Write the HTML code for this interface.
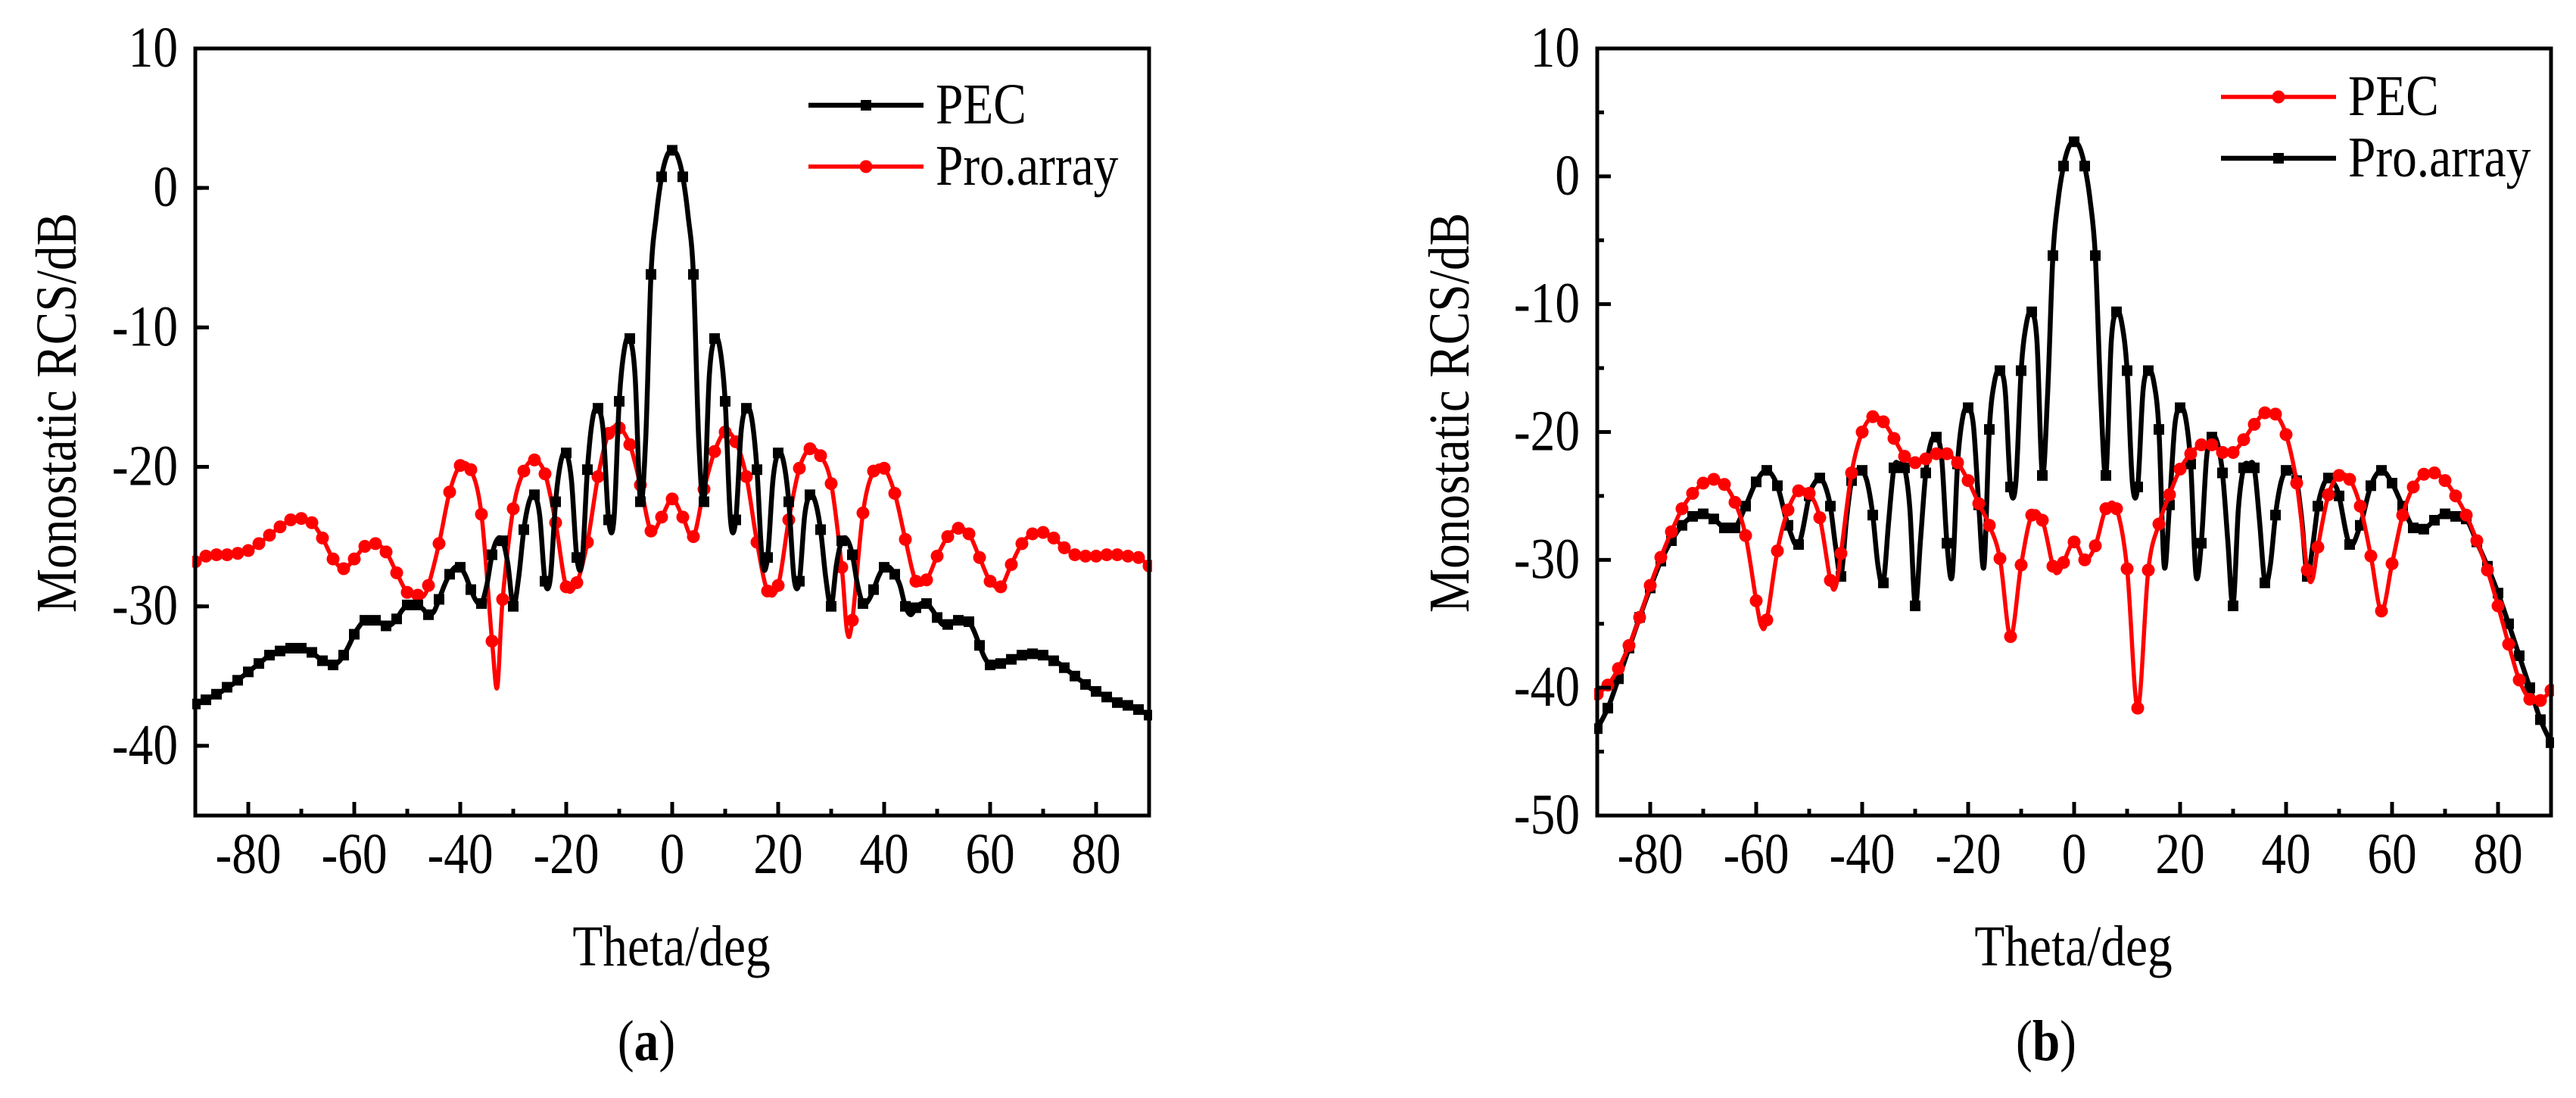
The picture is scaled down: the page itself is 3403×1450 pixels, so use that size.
<!DOCTYPE html>
<html><head><meta charset="utf-8"><style>
body{margin:0;background:#fff}
svg{display:block}
text{font-family:"Liberation Serif","DejaVu Serif","Times New Roman",Times,serif;fill:#000}
</style></head><body>
<svg id="fig" width="3403" height="1450" viewBox="0 0 3403 1450" xmlns="http://www.w3.org/2000/svg"></svg>
<script>
// ---- chart (a) data ----
const aPecTheta=[-90,-89,-88,-87,-86,-85,-84,-83,-82,-81,-80,-79,-78,-77,-76,-75,-74,-73,-72,-71,-70,-69,-68,-67,-66,-65,-64,-63,-62,-61,-60,-59,-58,-57,-56,-55,-54,-53,-52,-51,-50,-49,-48,-47,-46,-45,-44,-43,-42,-41,-40,-39,-38,-37,-36,-35,-34,-33,-32,-31,-30,-29,-28,-27,-26,-25,-24,-23,-22,-21,-20,-19,-18,-17,-16,-15,-14,-13,-12,-11,-10,-9,-8,-7,-6,-5,-4,-3,-2,-1,0,1,2,3,4,5,6,7,8,9,10,11,12,13,14,15,16,17,18,19,20,21,22,23,24,25,26,27,28,29,30,31,32,33,34,35,36,37,38,39,40,41,42,43,44,45,46,47,48,49,50,51,52,53,54,55,56,57,58,59,60,61,62,63,64,65,66,67,68,69,70,71,72,73,74,75,76,77,78,79,80,81,82,83,84,85,86,87,88,89,90];
const aPecValues=[-37,-36.9,-36.7,-36.5,-36.3,-36.1,-35.8,-35.6,-35.3,-35.0,-34.7,-34.4,-34.1,-33.8,-33.5,-33.3,-33.2,-33.1,-33.0,-33.0,-33.0,-33.1,-33.3,-33.6,-33.9,-34.1,-34.2,-34.0,-33.5,-32.8,-32.0,-31.4,-31.0,-30.9,-31.0,-31.2,-31.4,-31.3,-30.9,-30.3,-29.9,-29.8,-29.9,-30.2,-30.6,-30.4,-29.5,-28.5,-27.7,-27.2,-27.2,-27.8,-28.8,-29.6,-29.8,-28.5,-26.3,-25.2,-25.3,-27.0,-30.0,-28.0,-24.5,-22.5,-22.0,-23.5,-28.2,-28.0,-22.5,-19.6,-19.0,-21.0,-26.5,-26.8,-20.2,-16.5,-15.8,-17.5,-23.8,-23.8,-15.3,-11.5,-10.8,-13.5,-22.5,-18,-6.2,-2.0,0.8,2.3,2.7,2.3,0.8,-2.0,-6.2,-18,-22.5,-13.5,-10.8,-11.5,-15.3,-23.8,-23.8,-17.5,-15.8,-16.5,-20.2,-26.8,-26.5,-21,-19,-19.6,-22.5,-28,-28.2,-23.5,-22,-22.5,-24.5,-28,-30,-27,-25.3,-25.2,-26.3,-28.5,-29.8,-29.6,-28.8,-27.8,-27.2,-27.2,-27.7,-28.5,-30.0,-30.6,-30.1,-29.8,-29.8,-30.2,-30.8,-31.3,-31.3,-31.1,-31.0,-31.0,-31.1,-31.8,-32.8,-33.7,-34.2,-34.2,-34.1,-34.0,-33.8,-33.6,-33.5,-33.4,-33.4,-33.4,-33.5,-33.7,-33.9,-34.1,-34.4,-34.7,-35.0,-35.3,-35.6,-35.9,-36.1,-36.3,-36.5,-36.7,-36.9,-37.0,-37.1,-37.2,-37.4,-37.6,-37.8];
const aProTheta=[-90,-88,-86,-84,-82,-80,-78,-76,-74,-72,-70,-68,-66,-64,-62,-60,-58,-56,-54,-52,-50,-48,-47,-46,-44,-42,-40,-38,-36,-34,-33,-32,-30,-28,-26,-24,-22,-20,-18,-16,-14,-12,-10,-8,-6,-4,-2,0,2,4,6,8,10,12,14,16,18,20,22,24,26,28,30,32,33,34,36,38,40,42,44,46,48,50,52,54,56,58,60,62,64,66,68,70,72,74,76,78,80,82,84,86,88,90];
const aProValues=[-26.8,-26.4,-26.3,-26.3,-26.2,-26.0,-25.5,-24.9,-24.3,-23.8,-23.7,-24.0,-25.1,-26.6,-27.3,-26.6,-25.7,-25.5,-26.1,-27.6,-29.0,-29.2,-29.3,-28.5,-25.5,-21.8,-19.9,-20.2,-23.4,-32.5,-35.8,-29.5,-23,-20.3,-19.5,-20.5,-24,-28.6,-28.3,-25.4,-20.7,-17.6,-17.2,-18.4,-21.3,-24.6,-23.6,-22.3,-23.6,-25.0,-21.6,-18.9,-17.5,-18.2,-20.7,-25.4,-28.9,-28.5,-23.8,-20.1,-18.7,-19.2,-21.2,-27.2,-31.8,-31,-23.3,-20.3,-20.1,-21.9,-25.2,-28.2,-28.1,-26.4,-25,-24.4,-24.8,-26.5,-28.2,-28.6,-27,-25.5,-24.8,-24.7,-25.1,-25.8,-26.3,-26.4,-26.4,-26.3,-26.3,-26.4,-26.5,-27.1];
const aXTicks=[-80,-60,-40,-20,0,20,40,60,80];
const aYTicks=[-40,-30,-20,-10,0,10];
// ---- chart (b) data ----
const bProTheta=[-90,-88,-86,-84,-82,-80,-78,-76,-74,-72,-70,-68,-66,-64,-62,-60,-58,-56,-54,-52,-50,-49,-48,-47,-46,-45,-44,-43,-42,-41,-40,-39,-38,-37,-36,-35,-34,-33,-32,-31,-30,-29,-28,-27,-26,-25,-24,-23,-22,-21,-20,-19,-18,-17,-16,-15,-14,-13,-12,-11,-10,-9,-8,-7,-6,-5,-4,-3,-2,-1,0,1,2,3,4,5,6,7,8,9,10,11,12,13,14,15,16,17,18,19,20,21,22,23,24,25,26,27,28,29,30,31,32,33,34,35,36,37,38,39,40,41,42,43,44,45,46,47,48,49,50,52,54,56,58,60,62,64,66,68,70,72,74,76,78,80,82,84,86,88,90];
const bProValues=[-43.2,-41.6,-39.3,-36.9,-34.5,-32.2,-30.1,-28.5,-27.3,-26.6,-26.4,-26.8,-27.5,-27.5,-25.8,-23.9,-23.0,-24.2,-27.3,-28.8,-25.0,-24.0,-23.6,-24.2,-25.8,-29.0,-31.3,-27.0,-23.8,-23.0,-23.0,-24.0,-26.5,-30.5,-31.8,-27.0,-22.8,-22.5,-22.8,-26.0,-33.6,-28.5,-23.2,-20.8,-20.4,-22.0,-28.7,-31.2,-22.5,-18.8,-18.1,-19.5,-25.7,-30.5,-19.8,-16.0,-15.2,-16.8,-24.3,-24.0,-15.2,-11.5,-10.6,-13.0,-23.4,-17.0,-6.2,-1.8,0.8,2.3,2.7,2.3,0.8,-1.8,-6.2,-17,-23.4,-13,-10.6,-11.5,-15.2,-24.0,-24.3,-16.8,-15.2,-16.0,-19.8,-30.5,-25.7,-19.5,-18.1,-18.8,-22.5,-31.2,-28.7,-22,-20.4,-20.8,-23.2,-28.5,-33.6,-26,-22.8,-22.5,-22.8,-27,-31.8,-30.5,-26.5,-24,-23,-23,-23.8,-27,-31.3,-29,-25.8,-24.2,-23.6,-24,-25,-28.8,-27.3,-24.2,-23,-24,-25.8,-27.5,-27.6,-26.9,-26.4,-26.6,-26.8,-28.6,-30.5,-32.6,-35,-37.5,-40,-42.5,-44.3];
const bPecTheta=[-90,-88,-86,-84,-82,-80,-78,-76,-74,-72,-70,-68,-66,-64,-62,-60,-59,-58,-56,-54,-52,-50,-48,-46,-45,-44,-42,-40,-38,-36,-34,-32,-30,-28,-26,-24,-22,-20,-18,-16,-14,-12,-10,-8,-6,-4,-3,-2,0,2,4,6,8,10,12,14,16,18,20,22,24,26,28,30,32,34,36,38,40,42,44,45,46,48,50,52,54,56,58,60,62,64,66,68,70,72,74,76,78,80,82,84,86,88,90];
const bPecValues=[-40.5,-39.8,-38.5,-36.7,-34.5,-32,-29.8,-27.8,-26,-24.8,-24,-23.7,-24.1,-25.5,-28.1,-33.2,-35.2,-34.7,-29.3,-26.1,-24.6,-24.8,-26.7,-31.6,-32.1,-29.5,-23.2,-20.0,-18.8,-19.2,-20.5,-21.9,-22.4,-22.1,-21.7,-21.7,-22.4,-23.8,-25.6,-27.3,-29.9,-36.0,-30.4,-26.5,-26.9,-30.5,-31,-30.2,-28.6,-30.0,-28.9,-26.0,-26.0,-30.7,-41.6,-30.8,-27.2,-24.9,-22.9,-21.7,-21.0,-21.0,-21.6,-21.6,-20.6,-19.4,-18.5,-18.6,-20.2,-24,-30.8,-31.5,-29,-24.9,-23.4,-23.7,-25.8,-29.7,-34,-30.3,-26.5,-24.3,-23.3,-23.2,-23.8,-25.0,-26.5,-28.5,-30.8,-33.6,-36.6,-39.4,-40.9,-41.0,-40.2];
const bXTicks=[-80,-60,-40,-20,0,20,40,60,80];
const bYTicks=[-50,-40,-30,-20,-10,0,10];

const NS='http://www.w3.org/2000/svg';
const svg=document.getElementById('fig');
const SX=0.86, FS=76;
function mk(tag,attrs,parent){const e=document.createElementNS(NS,tag);for(const k in attrs)e.setAttribute(k,attrs[k]);(parent||svg).appendChild(e);return e;}
function txt(parent,x,y,str,anchor,rot){
 const t=mk('text',{x:0,y:0,'font-size':FS,'text-anchor':anchor||'start',
  transform:'translate('+x+','+y+')'+(rot?' rotate(-90)':'')+' scale('+SX+',1)'},parent);
 t.textContent=str;return t;}
function smoothPath(pts){let d='M'+pts[0][0].toFixed(1)+','+pts[0][1].toFixed(1);
 for(let i=0;i<pts.length-1;i++){const p0=pts[i-1]||pts[i],p1=pts[i],p2=pts[i+1],p3=pts[i+2]||p2;
  const c1x=p1[0]+(p2[0]-p0[0])/6,c1y=p1[1]+(p2[1]-p0[1])/6,c2x=p2[0]-(p3[0]-p1[0])/6,c2y=p2[1]-(p3[1]-p1[1])/6;
  d+=' C'+c1x.toFixed(1)+','+c1y.toFixed(1)+' '+c2x.toFixed(1)+','+c2y.toFixed(1)+' '+p2[0].toFixed(1)+','+p2[1].toFixed(1);}
 return d;}

function drawChart(cfg){
 const g=mk('g',{});
 
 
 const L=cfg.left,R=cfg.left+1260,T=64,B=1077;
 const xs=v=>L+(v+90)/180*(R-L);
 const ys=v=>T+(cfg.ymax-v)/(cfg.ymax-cfg.ymin)*(B-T);
 const clip=mk('clipPath',{id:cfg.name+'-clip'},g);mk('rect',{x:L-4,y:T,width:R-L+8,height:B-T},clip);
 cfg.series.forEach(s=>{
  const sg=mk('g',{'clip-path':'url(#'+cfg.name+'-clip)'},g);
  
  
  const pts=s.theta.map((t,i)=>[xs(t),ys(s.values[i])]);
  const p=mk('path',{d:smoothPath(pts),fill:'none',stroke:s.color,'stroke-width':s.w,'stroke-linejoin':'round'},sg);
  
  
  s.theta.forEach((t,i)=>{ if(t%2!==0) return;
   const x=xs(t),y=ys(s.values[i]);let m;
   if(s.marker==='sq') m=mk('rect',{x:x-7,y:y-7,width:14,height:14,fill:s.color},sg);
   else m=mk('circle',{cx:x,cy:y,r:8.5,fill:s.color},sg);
   
   
  });
 });
 const fr=mk('rect',{x:L,y:T,width:R-L,height:B-T,fill:'none',stroke:'#000','stroke-width':5},g);
 
 
 cfg.xTicks.forEach(v=>{const x=xs(v);mk('line',{x1:x,y1:B,x2:x,y2:B-18,stroke:'#000','stroke-width':5},g);
  const t=txt(g,x,1153,String(v),'middle');
  
  });
 for(let v=-90;v<=90;v+=10){if(v%20===0)continue;const x=xs(v);mk('line',{x1:x,y1:B,x2:x,y2:B-9,stroke:'#000','stroke-width':5},g);}
 cfg.yTicks.forEach(v=>{const y=ys(v);mk('line',{x1:L,y1:y,x2:L+18,y2:y,stroke:'#000','stroke-width':5},g);
  const t=txt(g,L-23,y+24,String(v),'end');
  
  });
 for(let v=cfg.ymin+5;v<cfg.ymax;v+=10){const y=ys(v);mk('line',{x1:L,y1:y,x2:L+9,y2:y,stroke:'#000','stroke-width':5},g);}
 const yt=txt(g,cfg.ytx,545,'Monostatic RCS/dB','middle',true);
 
 
 const xt=txt(g,cfg.xtx,1275,'Theta/deg','middle');
 
 
 const cap=txt(g,cfg.capx,1400,'','middle');
 cap.innerHTML='(<tspan font-weight="bold">'+cfg.cap+'</tspan>)';
 
 
 cfg.legend.forEach((e,i)=>{const lg=mk('g',{},g);
  
  
  const y=e.y;mk('line',{x1:cfg.lx,y1:y,x2:cfg.lx+152,y2:y,stroke:e.color,'stroke-width':e.w},lg);
  if(e.marker==='sq') mk('rect',{x:cfg.lx+76-7,y:y-7,width:14,height:14,fill:e.color},lg);
  else mk('circle',{cx:cfg.lx+76,cy:y,r:8.5,fill:e.color},lg);
  txt(lg,cfg.lx+168,y+24,e.label,'start');});
}
drawChart({name:'chart-a',left:258,ymin:-45,ymax:10,xTicks:aXTicks,yTicks:aYTicks,ytx:100,xtx:887,capx:854,cap:'a',lx:1068,
 series:[{name:'pro-array-series',theta:aProTheta,values:aProValues,color:'#ff0000',w:5.5,marker:'c'},
         {name:'pec-series',theta:aPecTheta,values:aPecValues,color:'#000',w:6.5,marker:'sq'}],
 legend:[{label:'PEC',color:'#000',w:6.5,marker:'sq',y:139},{label:'Pro.array',color:'#ff0000',w:5.5,marker:'c',y:220}]});
drawChart({name:'chart-b',left:2110,ymin:-50,ymax:10,xTicks:bXTicks,yTicks:bYTicks,ytx:1940,xtx:2739,capx:2703,cap:'b',lx:2934,
 series:[{name:'pro-array-series',theta:bProTheta,values:bProValues,color:'#000',w:6.5,marker:'sq'},
         {name:'pec-series',theta:bPecTheta,values:bPecValues,color:'#ff0000',w:5.5,marker:'c'}],
 legend:[{label:'PEC',color:'#ff0000',w:5.5,marker:'c',y:128},{label:'Pro.array',color:'#000',w:6.5,marker:'sq',y:209}]});
</script>
</body></html>
